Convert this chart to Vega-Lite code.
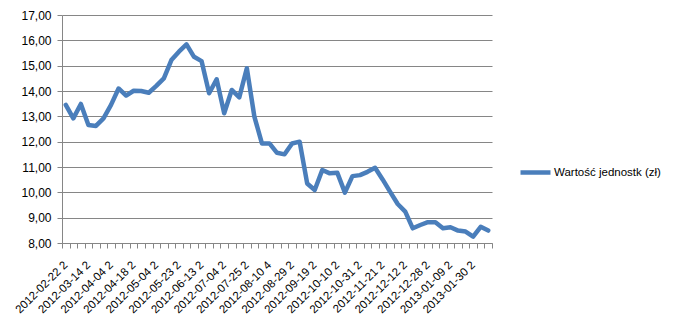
{
  "$schema": "https://vega.github.io/schema/vega-lite/v6.json",
  "width": 430,
  "height": 228,
  "autosize": {"type": "none"},
  "padding": {"left": 62, "top": 15, "right": 187, "bottom": 82},
  "background": "white",
  "config": {
    "font": "Liberation Sans",
    "view": {"stroke": null}
  },
  "data": {
    "values": [
      {"i": 0, "v": 13.45}, {"i": 1, "v": 12.92}, {"i": 2, "v": 13.49}, {"i": 3, "v": 12.66},
      {"i": 4, "v": 12.62}, {"i": 5, "v": 12.92}, {"i": 6, "v": 13.45}, {"i": 7, "v": 14.1},
      {"i": 8, "v": 13.82}, {"i": 9, "v": 14.01}, {"i": 10, "v": 14.0}, {"i": 11, "v": 13.93},
      {"i": 12, "v": 14.2}, {"i": 13, "v": 14.5}, {"i": 14, "v": 15.22}, {"i": 15, "v": 15.55},
      {"i": 16, "v": 15.84}, {"i": 17, "v": 15.35}, {"i": 18, "v": 15.18}, {"i": 19, "v": 13.91},
      {"i": 20, "v": 14.46}, {"i": 21, "v": 13.12}, {"i": 22, "v": 14.04}, {"i": 23, "v": 13.75},
      {"i": 24, "v": 14.9}, {"i": 25, "v": 12.99}, {"i": 26, "v": 11.93}, {"i": 27, "v": 11.93},
      {"i": 28, "v": 11.56}, {"i": 29, "v": 11.5}, {"i": 30, "v": 11.93}, {"i": 31, "v": 12.0},
      {"i": 32, "v": 10.35}, {"i": 33, "v": 10.09}, {"i": 34, "v": 10.88}, {"i": 35, "v": 10.75},
      {"i": 36, "v": 10.77}, {"i": 37, "v": 9.99}, {"i": 38, "v": 10.64}, {"i": 39, "v": 10.68},
      {"i": 40, "v": 10.81}, {"i": 41, "v": 10.97}, {"i": 42, "v": 10.51}, {"i": 43, "v": 10.02},
      {"i": 44, "v": 9.54}, {"i": 45, "v": 9.24}, {"i": 46, "v": 8.58}, {"i": 47, "v": 8.71},
      {"i": 48, "v": 8.82}, {"i": 49, "v": 8.82}, {"i": 50, "v": 8.58}, {"i": 51, "v": 8.62},
      {"i": 52, "v": 8.49}, {"i": 53, "v": 8.45}, {"i": 54, "v": 8.25}, {"i": 55, "v": 8.64},
      {"i": 56, "v": 8.49}
    ]
  },
  "mark": {"type": "line", "strokeWidth": 4.5, "strokeCap": "round", "strokeJoin": "round"},
  "encoding": {
    "x": {
      "field": "i",
      "type": "ordinal",
      "scale": {"paddingInner": 0, "paddingOuter": 0},
      "axis": {
        "title": null,
        "labelAngle": -45,
        "labelAlign": "right",
        "labelBaseline": "middle",
        "labelPadding": 15,
        "labelFontSize": 11.5,
        "labelColor": "#000000",
        "labelOverlap": false,
        "labelExpr": "datum.value % 3 == 0 ? ['2012-02-22 2','2012-03-14 2','2012-04-04 2','2012-04-18 2','2012-05-04 2','2012-05-23 2','2012-06-13 2','2012-07-04 2','2012-07-25 2','2012-08-10 4','2012-08-29 2','2012-09-19 2','2012-10-10 2','2012-10-31 2','2012-11-21 2','2012-12-12 2','2012-12-28 2','2013-01-09 2','2013-01-30 2'][datum.value / 3] : ''",
        "tickBand": "extent",
        "domainColor": "#868686",
        "domainWidth": 1,
        "tickColor": "#868686",
        "tickSize": 5,
        "grid": false
      }
    },
    "y": {
      "field": "v",
      "type": "quantitative",
      "scale": {"domain": [8, 17], "nice": false, "zero": false},
      "axis": {
        "title": null,
        "values": [8, 9, 10, 11, 12, 13, 14, 15, 16, 17],
        "labelExpr": "replace(format(datum.value, '.2f'), '.', ',')",
        "labelFontSize": 12,
        "labelColor": "#000000",
        "labelPadding": 6,
        "grid": true,
        "gridColor": "#868686",
        "gridWidth": 1,
        "gridOpacity": 1,
        "domainColor": "#868686",
        "tickColor": "#868686",
        "tickSize": 5
      }
    },
    "color": {
      "datum": "Wartość jednostk (zł)",
      "type": "nominal",
      "scale": {"range": ["#4A7EBB"]},
      "legend": {
        "title": null,
        "orient": "none",
        "legendX": 456,
        "legendY": 140,
        "symbolType": "stroke",
        "symbolSize": 900,
        "symbolStrokeWidth": 4.5,
        "labelFontSize": 11.5,
        "labelColor": "#000000",
        "labelOffset": 1
      }
    }
  }
}
